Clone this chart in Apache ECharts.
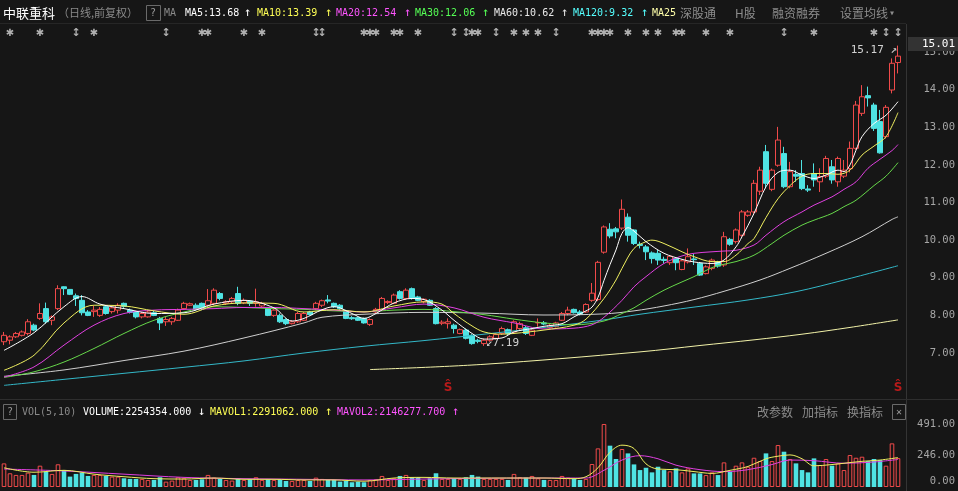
<!DOCTYPE html>
<html><head><meta charset="utf-8"><title>中联重科 日线</title>
<script src="https://cdn.jsdelivr.net/npm/echarts@6/dist/echarts.min.js"></script>
<style>html,body{margin:0;padding:0;background:#161616;overflow:hidden}#chart{width:958px;height:491px}</style>
</head><body><div id="chart"></div><script>
// ---- price data ----
const open = [7.30,7.34,7.43,7.47,7.52,7.74,7.92,8.18,7.87,8.18,
8.76,8.69,8.52,8.40,8.09,8.10,8.00,8.23,8.10,8.14,
8.32,8.14,8.09,7.96,7.96,8.07,7.92,7.83,7.83,7.87,
8.18,8.27,8.27,8.32,8.27,8.32,8.58,8.32,8.36,8.58,
8.33,8.38,8.32,8.25,8.18,8.00,8.00,7.89,7.78,7.83,
7.87,8.09,8.18,8.27,8.41,8.32,8.27,8.12,7.94,7.94,
7.92,7.76,8.09,8.14,8.34,8.32,8.63,8.45,8.71,8.49,
8.36,8.40,8.18,7.79,7.78,7.74,7.52,7.61,7.47,7.34,
7.25,7.34,7.39,7.52,7.62,7.56,7.65,7.67,7.47,7.80,
7.80,7.68,7.70,7.87,8.05,8.16,8.09,8.09,8.40,8.42,
9.68,10.29,10.30,10.32,10.61,10.27,9.89,9.82,9.66,9.65,
9.49,9.40,9.51,9.22,9.42,9.50,9.38,9.11,9.25,9.42,
9.34,10.02,9.96,10.13,10.66,10.75,11.30,12.35,11.35,11.99,
12.30,11.42,11.75,11.77,11.36,11.77,11.55,11.70,11.95,11.55,
11.70,11.90,12.44,13.37,13.84,13.59,13.15,12.75,13.99,14.72];
const close = [7.47,7.43,7.52,7.56,7.83,7.61,8.05,7.83,7.96,8.71,
8.71,8.56,8.45,8.07,8.00,8.14,8.16,8.05,8.20,8.27,
8.24,8.08,7.96,8.05,8.09,8.00,7.80,7.89,7.92,8.14,
8.32,8.31,8.16,8.18,8.39,8.67,8.45,8.36,8.45,8.32,
8.40,8.32,8.36,8.32,8.00,8.14,7.83,7.78,7.83,8.05,
8.05,8.02,8.32,8.39,8.38,8.23,8.18,7.92,7.91,7.87,
7.80,7.89,8.16,8.45,8.37,8.54,8.45,8.67,8.45,8.40,
8.43,8.27,7.78,7.82,7.83,7.65,7.62,7.39,7.25,7.31,
7.34,7.43,7.49,7.65,7.52,7.83,7.78,7.52,7.61,7.81,
7.77,7.74,7.80,8.05,8.14,8.07,8.03,8.29,8.59,9.41,
10.35,10.11,10.22,10.82,10.13,9.91,9.86,9.69,9.51,9.47,
9.46,9.57,9.40,9.45,9.56,9.48,9.07,9.29,9.47,9.31,
10.09,9.89,10.27,10.75,10.75,11.51,11.86,11.51,11.86,12.66,
11.42,11.82,11.70,11.37,11.33,11.60,11.69,12.17,11.60,12.17,
11.86,12.44,13.59,13.81,13.78,12.97,12.32,13.53,14.70,14.89];
const low = [7.21,7.23,7.40,7.44,7.47,7.58,7.88,7.78,7.74,8.14,
8.54,8.54,8.25,8.00,7.98,7.96,7.96,8.02,8.05,8.05,
8.20,8.05,7.92,7.92,7.94,7.98,7.61,7.72,7.75,7.85,
8.16,8.25,8.12,8.14,8.22,8.27,8.40,8.28,8.32,8.27,
8.30,8.25,8.23,8.20,7.98,7.96,7.80,7.74,7.76,7.80,
7.85,8.00,8.14,8.22,8.32,8.20,8.15,7.90,7.88,7.85,
7.78,7.72,8.05,8.12,8.30,8.30,8.42,8.42,8.42,8.38,
8.32,8.25,7.76,7.74,7.65,7.52,7.50,7.36,7.22,7.26,
7.19,7.30,7.36,7.48,7.48,7.52,7.62,7.48,7.45,7.70,
7.74,7.65,7.68,7.85,8.00,8.05,8.00,8.07,8.36,8.38,
9.64,10.05,10.05,10.27,9.96,9.87,9.78,9.47,9.38,9.34,
9.38,9.34,9.20,9.20,9.38,9.34,9.05,9.09,9.20,9.27,
9.29,9.85,9.91,10.09,10.62,10.70,11.20,11.38,11.30,11.95,
11.38,11.38,11.55,11.33,11.28,11.42,11.28,11.65,11.50,11.42,
11.65,11.80,12.40,13.30,13.55,12.90,12.30,12.70,13.90,14.43];
const high = [7.56,7.47,7.56,7.60,7.90,7.78,8.32,8.34,8.00,8.80,
8.77,8.70,8.58,8.54,8.14,8.25,8.22,8.27,8.25,8.32,
8.34,8.18,8.12,8.09,8.14,8.12,7.96,7.96,7.96,8.18,
8.36,8.34,8.32,8.34,8.70,8.72,8.62,8.40,8.49,8.76,
8.45,8.40,8.71,8.36,8.22,8.18,8.05,7.92,7.87,8.09,
8.09,8.12,8.36,8.42,8.54,8.34,8.30,8.15,7.98,7.96,
7.94,7.92,8.20,8.49,8.40,8.58,8.67,8.72,8.74,8.52,
8.45,8.43,8.22,7.87,7.92,7.78,7.65,7.65,7.50,7.38,
7.38,7.47,7.52,7.70,7.65,7.87,7.83,7.72,7.65,7.92,
7.85,7.77,7.83,8.09,8.23,8.18,8.14,8.32,8.86,9.45,
10.39,10.45,10.35,11.08,10.71,10.29,9.96,9.87,9.70,9.74,
9.56,9.60,9.53,9.48,9.78,9.63,9.42,9.33,9.51,9.45,
10.22,10.06,10.31,10.80,10.80,11.60,11.95,12.53,11.90,13.01,
12.48,12.08,11.86,12.13,11.46,12.04,11.91,12.24,12.13,12.22,
12.13,12.62,13.70,14.12,14.08,13.65,13.46,13.59,14.83,15.17];
// volume (万手)
const volume = [184,107,94,94,112,94,166,120,102,177,
132,81,102,112,86,94,94,86,81,81,
68,63,63,63,55,55,76,42,50,76,
68,55,55,60,94,73,63,55,50,65,
55,60,76,55,60,55,60,47,47,55,
55,47,73,63,55,55,42,47,37,42,
37,55,60,86,55,68,86,94,76,76,
55,68,107,63,63,68,63,76,94,81,
63,63,63,63,55,102,76,73,86,68,
55,55,55,86,73,63,55,63,179,301,
491,322,218,296,262,176,132,150,114,158,
132,122,145,114,145,106,106,93,114,93,
192,119,166,192,158,228,202,262,202,327,
275,218,184,132,114,223,171,218,166,184,
132,249,228,236,202,218,210,166,340,225.4];
// moving-average lines, read as [candle index, value]
const ma5 = [[0,7.07],[5,7.54],[10,8.23],[13,8.50],[16,8.30],[20,8.18],[25,8.05],[30,8.07],[35,8.30],[40,8.40],[45,8.20],[48,7.85],[50,7.92],[53,8.15],[55,8.23],[58,8.05],[60,7.92],[62,8.05],[65,8.33],[68,8.45],[70,8.42],[73,8.14],[75,7.87],[78,7.52],[80,7.37],[83,7.40],[85,7.56],[88,7.65],[90,7.71],[93,7.78],[95,7.96],[97,8.12],[98,8.22],[99,8.48],[100,8.93],[101,9.35],[102,9.74],[103,10.18],[104,10.33],[105,10.24],[107,9.96],[110,9.65],[113,9.49],[115,9.42],[118,9.38],[120,9.47],[122,9.82],[123,10.09],[125,10.71],[127,11.42],[129,11.80],[131,11.86],[133,11.73],[135,11.64],[137,11.73],[139,11.86],[140,11.82],[141,12.0],[142,12.39],[143,12.75],[145,13.10],[147,13.32],[149,13.68]];
const ma10 = [[0,6.54],[5,6.94],[10,7.80],[15,8.27],[20,8.25],[25,8.12],[30,8.03],[35,8.25],[40,8.33],[45,8.32],[50,8.09],[55,8.15],[60,8.09],[65,8.25],[70,8.36],[73,8.30],[75,8.05],[78,7.72],[80,7.56],[83,7.50],[85,7.52],[90,7.61],[95,7.74],[97,7.90],[100,8.45],[102,8.94],[103,9.25],[105,9.78],[107,9.96],[108,10.0],[110,9.91],[113,9.69],[115,9.56],[118,9.43],[120,9.43],[122,9.60],[124,9.91],[125,10.04],[127,10.60],[129,11.10],[131,11.45],[133,11.70],[135,11.77],[137,11.77],[139,11.75],[141,11.86],[143,12.26],[145,12.50],[147,12.75],[149,13.39]];
const ma20 = [[0,6.36],[5,6.63],[10,7.21],[15,7.74],[20,8.05],[25,8.14],[30,8.16],[35,8.18],[40,8.21],[45,8.21],[50,8.18],[55,8.14],[60,8.09],[65,8.20],[70,8.30],[75,8.20],[80,7.95],[85,7.80],[90,7.64],[95,7.66],[98,7.75],[100,7.95],[103,8.40],[105,8.76],[107,9.03],[110,9.38],[113,9.58],[115,9.65],[118,9.69],[120,9.71],[122,9.73],[125,9.87],[127,10.13],[130,10.49],[133,10.75],[135,10.93],[138,11.15],[140,11.35],[142,11.55],[144,11.91],[146,12.15],[148,12.38],[149,12.54]];
const ma30 = [[0,6.35],[5,6.50],[10,6.76],[15,7.12],[20,7.52],[25,7.87],[30,8.09],[35,8.23],[40,8.21],[45,8.18],[50,8.16],[55,8.12],[60,8.10],[65,8.14],[70,8.16],[75,8.10],[80,8.02],[85,7.90],[90,7.80],[95,7.75],[100,7.85],[103,8.05],[105,8.20],[107,8.40],[110,8.67],[113,8.89],[115,9.03],[118,9.27],[120,9.36],[122,9.43],[125,9.60],[128,9.91],[130,10.13],[133,10.40],[135,10.53],[138,10.71],[140,10.89],[142,11.06],[145,11.45],[147,11.70],[149,12.06]];
const ma60 = [[0,6.38],[10,6.55],[20,6.80],[30,7.05],[40,7.40],[50,7.80],[53,7.95],[60,8.03],[70,8.08],[80,8.06],[90,8.01],[100,8.04],[105,8.12],[110,8.25],[115,8.42],[120,8.64],[126,8.94],[131,9.25],[137,9.65],[143,10.09],[148,10.55],[149,10.62]];
const ma120 = [[0,6.14],[10,6.30],[20,6.46],[30,6.62],[40,6.79],[50,7.00],[60,7.18],[70,7.33],[80,7.50],[90,7.68],[100,7.88],[106,8.03],[115,8.22],[124,8.41],[132,8.63],[140,8.94],[149,9.32]];
const ma250 = [[61,6.56],[80,6.70],[106,7.03],[116,7.20],[125,7.35],[133,7.50],[141,7.68],[149,7.88]];
const mavol1 = [[0,150],[5,115],[10,130],[15,100],[20,80],[25,65],[30,62],[35,70],[40,60],[45,60],[50,55],[55,55],[60,45],[65,70],[70,75],[75,70],[80,70],[85,70],[90,70],[95,65],[97,80],[99,150],[101,271],[103,326],[105,300],[107,180],[109,140],[112,135],[115,120],[118,106],[121,130],[124,160],[127,220],[129,240],[131,250],[133,220],[135,165],[138,175],[140,185],[143,200],[146,210],[149,229.1]];
const mavol2 = [[0,140],[10,125],[20,100],[30,75],[40,65],[50,60],[60,55],[70,62],[80,68],[90,70],[97,70],[100,130],[103,210],[106,244],[109,220],[112,170],[116,135],[120,120],[124,135],[128,175],[131,210],[135,205],[140,185],[145,195],[149,214.6]];
// event markers above the candles (candle indexes)
const starIdx = [1,6,15,33,34,40,43,60,61,62,65,66,69,78,79,85,87,89,98,99,100,101,104,107,109,112,113,117,121,135,145];
const arrowIdx = [12,27,52,53,75,77,82,92,130,147,149];
const sIdx = [74,149];
const priceTicks = [7,8,9,10,11,12,13,14,15];
const volTicks = [0,246,491];
const categories = open.map((_, i) => 'D' + (i + 1));

// ---- chart ----
const UP = '#f04a4a', DOWN = '#4fe3e3', BG = '#161616';
const MONO = '"DejaVu Sans Mono", "Liberation Mono", monospace';
const CJK = '"Noto Sans CJK SC", sans-serif';
const ohlc = open.map((o, i) => [o, close[i], low[i], high[i]]);

function maLine(data, color, xi, yi) {
  return {type: 'line', xAxisIndex: xi, yAxisIndex: yi, data: data, smooth: 0.35,
    symbol: 'none', showSymbol: false, silent: true, lineStyle: {color: color, width: 1}, z: 3};
}

const graphic = [];
function txt(x, y, s, fill, font, align) {
  graphic.push({type: 'text', x: x, y: y, z: 10, silent: true,
    style: {text: s, fill: fill, font: font, verticalAlign: 'middle', align: align || 'left'}});
}
function box(x, y, w, h) {
  graphic.push({type: 'rect', z: 10, silent: true, shape: {x: x + 0.5, y: y + 0.5, width: w, height: h},
    style: {fill: 'none', stroke: '#6a6a6a', lineWidth: 1}});
}
function line(x1, y1, x2, y2, c) {
  graphic.push({type: 'line', z: 1, silent: true, shape: {x1: x1, y1: y1, x2: x2, y2: y2},
    style: {stroke: c, lineWidth: 1}});
}
// separators
line(0, 23.5, 906, 23.5, '#262626');
line(906.5, 24, 906.5, 491, '#343434');
line(0, 399.5, 958, 399.5, '#2e2e2e');
// header
const f10 = '10px ' + MONO, f11a = '12px ' + MONO;
txt(3, 13, '中联重科', '#ffffff', '13px ' + CJK);
txt(58, 13, '（日线,前复权）', '#8a8a8a', '11px ' + CJK);
box(146, 5, 14, 15); txt(153, 13, '?', '#9a9a9a', f10, 'center');
txt(164, 13, 'MA', '#8a8a8a', f10);
const maHdr = [[185, 'MA5:13.68', '#ffffff', 244], [257, 'MA10:13.39', '#ffff55', 325],
  [336, 'MA20:12.54', '#ff55ff', 404], [415, 'MA30:12.06', '#55ff55', 482],
  [494, 'MA60:10.62', '#e8e8e8', 561], [573, 'MA120:9.32', '#55ffff', 641]];
maHdr.forEach(h => { txt(h[0], 13, h[1], h[2], f10); txt(h[3], 13, '↑', h[2], f11a); });
txt(652, 13, 'MA25', '#ffffaa', f10);
txt(680, 13, '深股通', '#8c8c8c', '12px ' + CJK);
txt(735, 13, 'H股', '#8c8c8c', '12px ' + CJK);
txt(772, 13, '融资融券', '#8c8c8c', '12px ' + CJK);
txt(840, 13, '设置均线', '#8c8c8c', '12px ' + CJK);
txt(889, 13, '▾', '#8c8c8c', '10px ' + MONO);
// volume header
box(3, 404, 13, 15); txt(10, 412, '?', '#9a9a9a', f10, 'center');
txt(22, 412, 'VOL(5,10)', '#8a8a8a', f10);
txt(83, 412, 'VOLUME:2254354.000', '#ffffff', f10); txt(198, 412, '↓', '#ffffff', f11a);
txt(210, 412, 'MAVOL1:2291062.000', '#ffff55', f10); txt(325, 412, '↑', '#ffff55', f11a);
txt(337, 412, 'MAVOL2:2146277.700', '#ff55ff', f10); txt(452, 412, '↑', '#ff55ff', f11a);
txt(757, 412, '改参数', '#8c8c8c', '12px ' + CJK);
txt(802, 412, '加指标', '#8c8c8c', '12px ' + CJK);
txt(847, 412, '换指标', '#8c8c8c', '12px ' + CJK);
box(892, 404, 13, 15); txt(899, 412, '✕', '#9a9a9a', '10px ' + MONO, 'center');
// current price tag
graphic.push({type: 'rect', z: 20, silent: true, shape: {x: 908, y: 37, width: 50, height: 14}, style: {fill: '#333333'}});
txt(955, 44, '15.01', '#ffffff', '11px ' + MONO, 'right');
graphic[graphic.length - 1].z = 21;

const axisLabelBase = {color: '#a6a6a6', fontFamily: MONO, fontSize: 10.5, align: 'right', margin: 49,
  formatter: v => Number(v).toFixed(2)};

const option = {
  backgroundColor: BG,
  animation: false,
  grid: [
    {left: 1, right: 57, top: 26, height: 14},
    {left: 1, right: 57, top: 40, height: 355},
    {left: 1, right: 57, top: 410, height: 77}
  ],
  xAxis: [0, 1, 2].map(g => ({type: 'category', gridIndex: g, data: categories, boundaryGap: true, show: false})),
  yAxis: [
    {gridIndex: 0, min: 0, max: 1, show: false},
    {gridIndex: 1, type: 'value', min: 5.884, max: 15.319, position: 'right', offset: 5,
      axisLine: {show: false}, axisTick: {show: false}, splitLine: {show: false},
      axisLabel: Object.assign({customValues: priceTicks}, axisLabelBase)},
    {gridIndex: 2, type: 'value', min: 0, max: 600, position: 'right', offset: 5,
      axisLine: {show: false}, axisTick: {show: false}, splitLine: {show: false},
      axisLabel: Object.assign({customValues: volTicks, verticalAlignMinLabel: 'bottom'}, axisLabelBase)}
  ],
  graphic: graphic,
  series: [
    {type: 'candlestick', xAxisIndex: 1, yAxisIndex: 1, data: ohlc, barWidth: 4.6, z: 2,
      itemStyle: {color: 'rgba(0,0,0,0)', color0: DOWN, borderColor: UP, borderColor0: DOWN, borderWidth: 1}},
    maLine(ma250, '#f2f2a8', 1, 1),
    maLine(ma120, '#33b8c8', 1, 1),
    maLine(ma60, '#cfcfcf', 1, 1),
    maLine(ma30, '#66d84a', 1, 1),
    maLine(ma20, '#e040e0', 1, 1),
    maLine(ma10, '#f0f060', 1, 1),
    maLine(ma5, '#ffffff', 1, 1),
    {type: 'scatter', xAxisIndex: 0, yAxisIndex: 0, symbolSize: 0, silent: true,
      data: starIdx.map(i => [i, 0.5]),
      label: {show: true, position: 'inside', formatter: '✱', color: '#d8d8d8', fontSize: 10, fontFamily: '"DejaVu Sans"'}},
    {type: 'scatter', xAxisIndex: 0, yAxisIndex: 0, symbolSize: 0, silent: true,
      data: arrowIdx.map(i => [i, 0.5]),
      label: {show: true, position: 'inside', formatter: '↕', color: '#d8d8d8', fontSize: 11, fontWeight: 'bold', fontFamily: '"DejaVu Sans"'}},
    {type: 'scatter', xAxisIndex: 1, yAxisIndex: 1, symbolSize: 0, silent: true,
      data: sIdx.map(i => [i, 6.07]),
      label: {show: true, position: 'inside', formatter: 'Ŝ', color: '#e01c1c', fontSize: 12, fontWeight: 'bold', fontFamily: '"DejaVu Sans"'}},
    {type: 'scatter', xAxisIndex: 1, yAxisIndex: 1, symbolSize: 0, silent: true, z: 5,
      data: [
        {value: [80, low[80]], label: {position: 'right', distance: 2, offset: [0, -3], formatter: '↙' + low[80].toFixed(2)}},
        {value: [149, high[149]], label: {position: 'left', distance: 1, offset: [0, 5], formatter: high[149].toFixed(2) + ' ↗'}}
      ],
      label: {show: true, color: '#ffffff', fontSize: 11, fontFamily: MONO}},
    {type: 'bar', xAxisIndex: 2, yAxisIndex: 2, barWidth: 4.6, silent: true,
      data: volume.map((v, i) => ({value: v, itemStyle: close[i] >= open[i]
        ? {color: 'rgba(0,0,0,0)', borderColor: UP, borderWidth: 1}
        : {color: DOWN}}))},
    maLine(mavol2, '#e040e0', 2, 2),
    maLine(mavol1, '#f0f060', 2, 2)
  ]
};
const chart = echarts.init(document.getElementById('chart'), null, {renderer: 'canvas'});
chart.setOption(option);
</script></body></html>
